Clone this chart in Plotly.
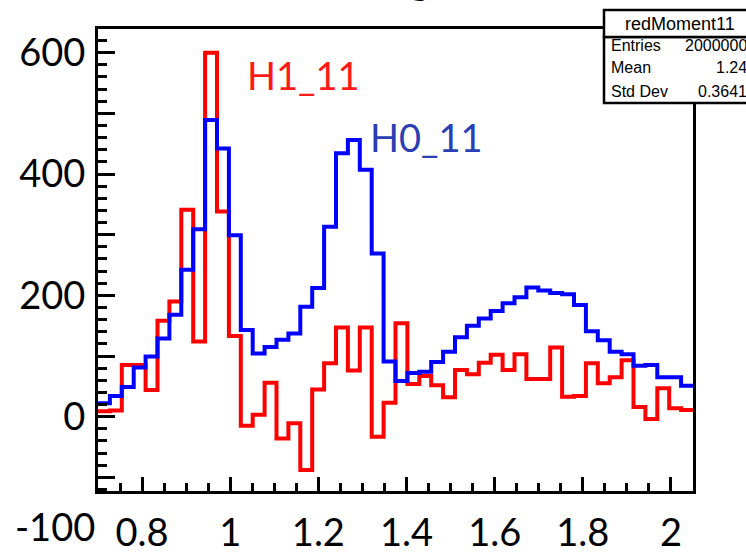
import numpy as np
import plotly.graph_objects as go

# ---------------- data ----------------
x_min, x_max, n_bins = 0.7, 2.05, 50
h0_11 = [22, 34, 49, 81, 99, 129, 168, 242, 309, 489,
         442, 299, 143, 104, 115, 127, 137, 181, 212, 313,
         434, 456, 407, 269, 91, 59, 72, 74, 90, 107,
         131, 150, 162, 174, 187, 197, 213, 208, 204, 202,
         184, 141, 126, 107, 103, 84, 85, 65, 65, 51]
h1_11 = [9, 10, 85, 85, 44, 158, 190, 341, 124, 600,
         338, 133, -15, 3, 56, -36, -11, -88, 45, 88,
         147, 76, 147, -33, 23, 154, 54, 67, 52, 32,
         77, 70, 89, 102, 77, 103, 62, 62, 114, 33,
         34, 88, 55, 65, 93, 16, -4, 47, 14, 11]
y_tick_vals = [-100, 0, 100, 200, 300, 400, 500, 600]
y_tick_text = ["", "0", "", "200", "", "400", "", "600"]
x_tick_vals = [0.8, 1.0, 1.2, 1.4, 1.6, 1.8, 2.0]
x_tick_text = ["0.8", "1", "1.2", "1.4", "1.6", "1.8", "2"]
stat_title = "redMoment11"
stat_labels = ["Entries", "Mean", "Std Dev"]
stat_values = ["2000000", "1.24", "0.3641"]
y_range = [-122.5, 639]

# ---------------- geometry helpers ----------------
W, H = 746, 556
L, R, T, B = 98, 693, 29, 491


def fx(p):
    return (p - L) / (R - L)


def fy(p):
    return (B - p) / (B - T)


edges = np.linspace(x_min, x_max, n_bins + 1)


def step_xy(vals):
    return list(edges), list(vals) + [vals[-1]]


fig = go.Figure()
xs, ys = step_xy(h1_11)
fig.add_trace(go.Scatter(x=xs, y=ys, mode="lines", line=dict(color="#ff0000", width=4, shape="hv"),
                         showlegend=False, hoverinfo="skip"))
xs, ys = step_xy(h0_11)
fig.add_trace(go.Scatter(x=xs, y=ys, mode="lines", line=dict(color="#0000ff", width=4, shape="hv"),
                         showlegend=False, hoverinfo="skip"))

big_font = dict(family="Lato", size=38, color="black")

fig.update_layout(
    width=W, height=H,
    margin=dict(l=L, r=W - R, t=T, b=H - B),
    paper_bgcolor="white", plot_bgcolor="white",
    xaxis=dict(range=[x_min, x_max], showgrid=False, zeroline=False, automargin=False,
               showline=True, mirror=True, linecolor="black", linewidth=3,
               ticks="inside", ticklen=14, tickwidth=3, tickcolor="black",
               tickvals=x_tick_vals, ticktext=x_tick_text, tickfont=big_font,
               ticklabelstandoff=6,
               minor=dict(ticks="inside", ticklen=8, tickwidth=3, tickcolor="black",
                          dtick=0.05, tick0=0.8, showgrid=False)),
    yaxis=dict(range=y_range, showgrid=False, zeroline=False, automargin=False,
               showline=True, mirror=True, linecolor="black", linewidth=3,
               ticks="inside", ticklen=17, tickwidth=3, tickcolor="black",
               tickvals=y_tick_vals, ticktext=y_tick_text, tickfont=big_font,
               ticklabelstandoff=2,
               minor=dict(ticks="inside", ticklen=9, tickwidth=3, tickcolor="black",
                          dtick=20, tick0=0, showgrid=False)),
)

# stat box
fig.add_shape(type="rect", xref="paper", yref="paper", x0=fx(604), x1=fx(760), y0=fy(103), y1=fy(37),
              line=dict(color="black", width=2.5), fillcolor="white", layer="above")
fig.add_shape(type="rect", xref="paper", yref="paper", x0=fx(604), x1=fx(760), y0=fy(37), y1=fy(10),
              line=dict(color="black", width=2.5), fillcolor="white", layer="above")
fig.add_annotation(xref="paper", yref="paper", x=fx(680), y=fy(24), text=stat_title, showarrow=False,
                   font=dict(family="Liberation Sans", size=18, color="black"), xanchor="center", yanchor="middle")
row_y = [45, 68, 91]
for lab, val, ry in zip(stat_labels, stat_values, row_y):
    fig.add_annotation(xref="paper", yref="paper", x=fx(609), y=fy(ry), text=lab, showarrow=False,
                       font=dict(family="Liberation Sans", size=16, color="black"), xanchor="left", yanchor="middle")
    fig.add_annotation(xref="paper", yref="paper", x=fx(749), y=fy(ry), text=val, showarrow=False,
                       font=dict(family="Liberation Sans", size=16, color="black"), xanchor="right", yanchor="middle")

# series labels
fig.add_annotation(xref="paper", yref="paper", x=fx(245), y=fy(75), text="H1_11", showarrow=False,
                   font=dict(family="Lato", size=38, color="#ff1a1a"), xanchor="left", yanchor="middle")
fig.add_annotation(xref="paper", yref="paper", x=fx(368), y=fy(137), text="H0_11", showarrow=False,
                   font=dict(family="Lato", size=38, color="#2b3fb5"), xanchor="left", yanchor="middle")
# extra y label below the axis
fig.add_annotation(xref="paper", yref="paper", x=fx(97), y=fy(526), text="-100", showarrow=False,
                   font=big_font, xanchor="right", yanchor="middle")
# cut-off title fragment
fig.add_annotation(xref="paper", yref="paper", x=fx(420), y=fy(4), text="g", showarrow=False,
                   font=big_font, xanchor="center", yanchor="bottom")

fig.write_html("out.html")
